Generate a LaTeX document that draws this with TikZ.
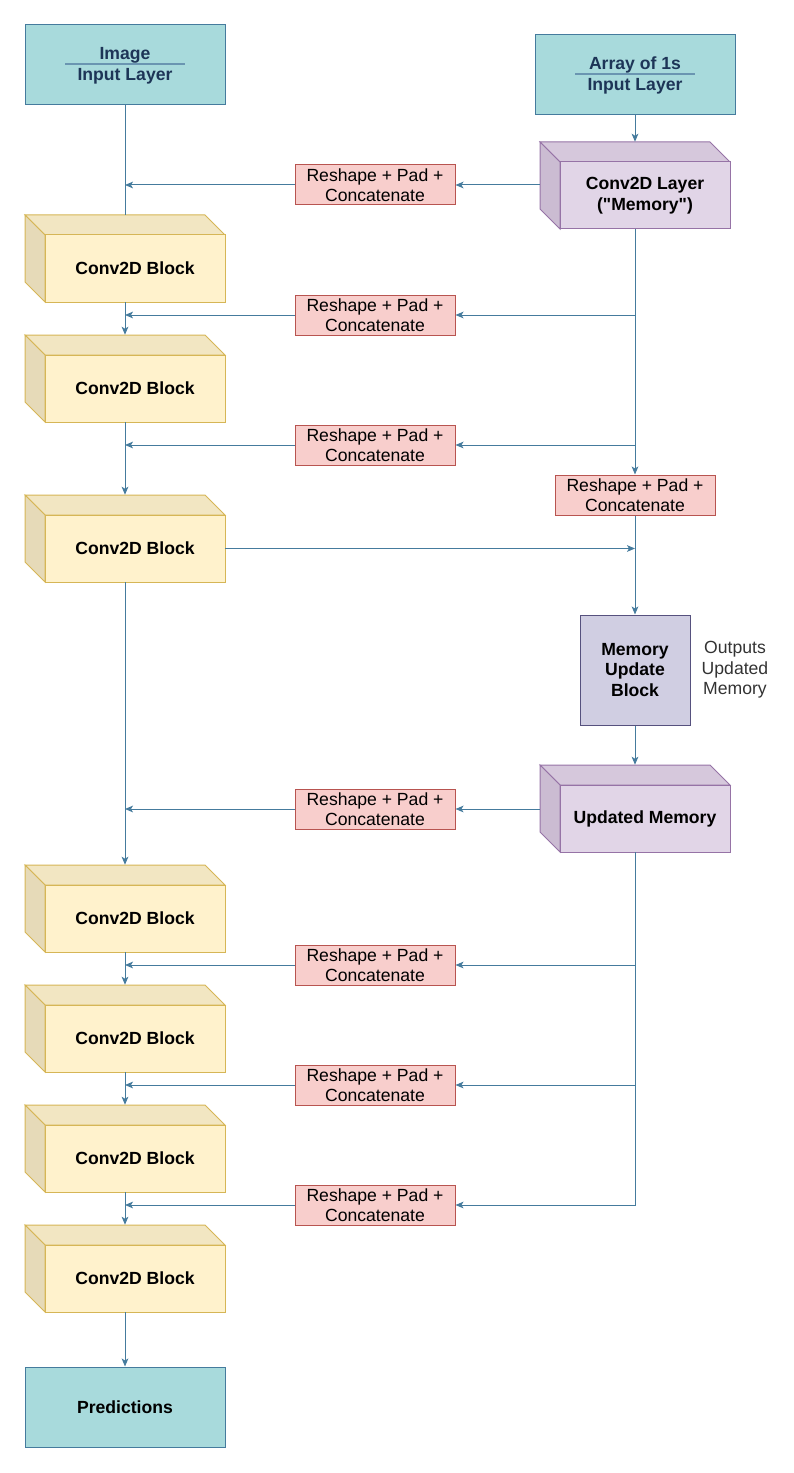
\documentclass[tikz,border=0pt]{standalone}
\usepackage{fontspec}
\setmainfont{Liberation Sans}
\usetikzlibrary{arrows.meta,fit,calc}
\definecolor{tealfill}{HTML}{A8DADC}
\definecolor{tealstroke}{HTML}{457B9D}
\definecolor{navy}{HTML}{1D3557}
\definecolor{edge}{HTML}{457B9D}
\definecolor{yfront}{HTML}{FFF2CC}
\definecolor{ytop}{HTML}{F2E6C2}
\definecolor{yside}{HTML}{E6DAB8}
\definecolor{ystroke}{HTML}{D6B656}
\definecolor{pfront}{HTML}{E1D5E7}
\definecolor{ptop}{HTML}{D6C8DC}
\definecolor{pside}{HTML}{CBBCD2}
\definecolor{pstroke}{HTML}{9673A6}
\definecolor{rsfill}{HTML}{F8CECC}
\definecolor{rsstroke}{HTML}{B85450}
\definecolor{mufill}{HTML}{D0CEE2}
\definecolor{mustroke}{HTML}{56517E}
\newcommand\txtfont{\fontsize{13.2pt}{15.4pt}\selectfont}
\tikzset{
  inbox/.style={draw=tealstroke, fill=tealfill, line width=0.75pt, minimum width=150pt, minimum height=60pt, inner sep=0pt},
  inlbl/.style={text=navy, font=\txtfont\bfseries, inner sep=0pt, text height=9.5pt, text depth=2.7pt},
  sepline/.style={draw=tealstroke!80, line width=0.9pt},
  rsbox/.style={draw=rsstroke, fill=rsfill, line width=0.75pt, minimum width=120pt, minimum height=30pt, inner sep=0pt, align=center, font=\txtfont},
  mubox/.style={draw=mustroke, fill=mufill, line width=0.75pt, minimum width=82.5pt, minimum height=82.5pt, inner sep=0pt, align=center, font=\txtfont\bfseries},
  cubetxt/.style={font=\txtfont\bfseries, align=center, inner sep=0pt},
  ln/.style={draw=edge, line width=0.75pt},
  arr/.style={ln, -{Stealth[length=6pt,width=5pt,inset=1.5pt]}},
  note/.style={font=\txtfont, text=black!80, align=center, inner sep=0pt}
}
% name, x1, y1, x2, y2, text, scheme
\newcommand\cubebox[7]{%
  \fill[#7top, draw=#7stroke, line width=0.75pt] (#2,#3) -- (#4-20,#3) -- (#4,#3+20) -- (#2+20,#3+20) -- cycle;
  \fill[#7side, draw=#7stroke, line width=0.75pt] (#2,#3) -- (#2+20,#3+20) -- (#2+20,#5) -- (#2,#5-20) -- cycle;
  \fill[#7front, draw=#7stroke, line width=0.75pt] (#2+20,#3+20) rectangle (#4,#5);
  \node[fit={(#2,#3) (#4,#5)}, inner sep=0pt] (#1) {};
  \node[fit={(#2+20,#3+20) (#4,#5)}, inner sep=0pt] (#1-f) {};
  \node[cubetxt] (#1-t) at (#1-f.center) {#6};
}
\begin{document}
\begin{tikzpicture}[x=0.75pt,y=-0.75pt]
\useasboundingbox (0,0) rectangle (793,1473);
% input layers
\node[inbox] (img) at (125,65) {};
\node[inlbl] (imgt1) at (125,55) {Image};
\node[inlbl] (imgt2) at (125,76) {Input Layer};
\draw[sepline] (65,64) -- (185,64);
\node[inbox] (arr1) at (635,75) {};
\node[inlbl] (arrt1) at (635,65) {Array of 1s};
\node[inlbl] (arrt2) at (635,86) {Input Layer};
\draw[sepline] (575,74) -- (695,74);
% cubes
\cubebox{mem}{540}{142}{730}{229}{Conv2D Layer\\(\textquotedbl Memory\textquotedbl)}{p}
\cubebox{um}{540}{765}{730}{852}{Updated Memory}{p}
\cubebox{b1}{25}{215}{225}{302}{Conv2D Block}{y}
\cubebox{b2}{25}{335}{225}{422}{Conv2D Block}{y}
\cubebox{b3}{25}{495}{225}{582}{Conv2D Block}{y}
\cubebox{b4}{25}{865}{225}{952}{Conv2D Block}{y}
\cubebox{b5}{25}{985}{225}{1072}{Conv2D Block}{y}
\cubebox{b6}{25}{1105}{225}{1192}{Conv2D Block}{y}
\cubebox{b7}{25}{1225}{225}{1312}{Conv2D Block}{y}
% reshape boxes
\node[rsbox] (rA) at (375,185) {Reshape + Pad +\\Concatenate};
\node[rsbox] (rB) at (375,315) {Reshape + Pad +\\Concatenate};
\node[rsbox] (rC) at (375,445) {Reshape + Pad +\\Concatenate};
\node[rsbox] (rD) at (635,495) {Reshape + Pad +\\Concatenate};
\node[rsbox] (rE) at (375,809) {Reshape + Pad +\\Concatenate};
\node[rsbox] (rF) at (375,965) {Reshape + Pad +\\Concatenate};
\node[rsbox] (rG) at (375,1085) {Reshape + Pad +\\Concatenate};
\node[rsbox] (rH) at (375,1205) {Reshape + Pad +\\Concatenate};
% memory update
\node[mubox] (mu) at (635,670) {Memory\\Update\\Block};
\node[note] (out) at (735,670) {Outputs\\Updated\\Memory};
% predictions
\node[inbox, font=\txtfont\bfseries, text=black] (pred) at (125,1407) {Predictions};
% connectors
\draw[arr] (arr1.south) -- (mem.north);
\draw[ln] (img.south) -- (b1.north);
\draw[arr] (rA.east -| mem.west) -- (rA.east);
\draw[arr] (rA.west) -- (rA.west -| img.south);
\draw[arr] (b1.south) -- (b2.north);
\draw[arr] (rB.west) -- (rB.west -| b1.south);
\draw[arr] (b2.south) -- (b3.north);
\draw[arr] (rC.west) -- (rC.west -| b2.south);
\draw[arr] (mem.south) -- (rD.north);
\draw[arr] (rB.east -| mem.south) -- (rB.east);
\draw[arr] (rC.east -| mem.south) -- (rC.east);
\draw[arr] (b3-f.east) -- (b3-f.east -| rD.south);
\draw[arr] (rD.south) -- (mu.north);
\draw[arr] (mu.south) -- (um.north);
\draw[arr] (rE.east -| um.west) -- (rE.east);
\draw[arr] (rE.west) -- (rE.west -| b3.south);
\draw[arr] (b3.south) -- (b4.north);
\draw[arr] (um.south) |- (rH.east);
\draw[arr] (rF.east -| um.south) -- (rF.east);
\draw[arr] (rG.east -| um.south) -- (rG.east);
\draw[arr] (rF.west) -- (rF.west -| b4.south);
\draw[arr] (rG.west) -- (rG.west -| b5.south);
\draw[arr] (rH.west) -- (rH.west -| b6.south);
\draw[arr] (b4.south) -- (b5.north);
\draw[arr] (b5.south) -- (b6.north);
\draw[arr] (b6.south) -- (b7.north);
\draw[arr] (b7.south) -- (pred.north);
\end{tikzpicture}
\end{document}
